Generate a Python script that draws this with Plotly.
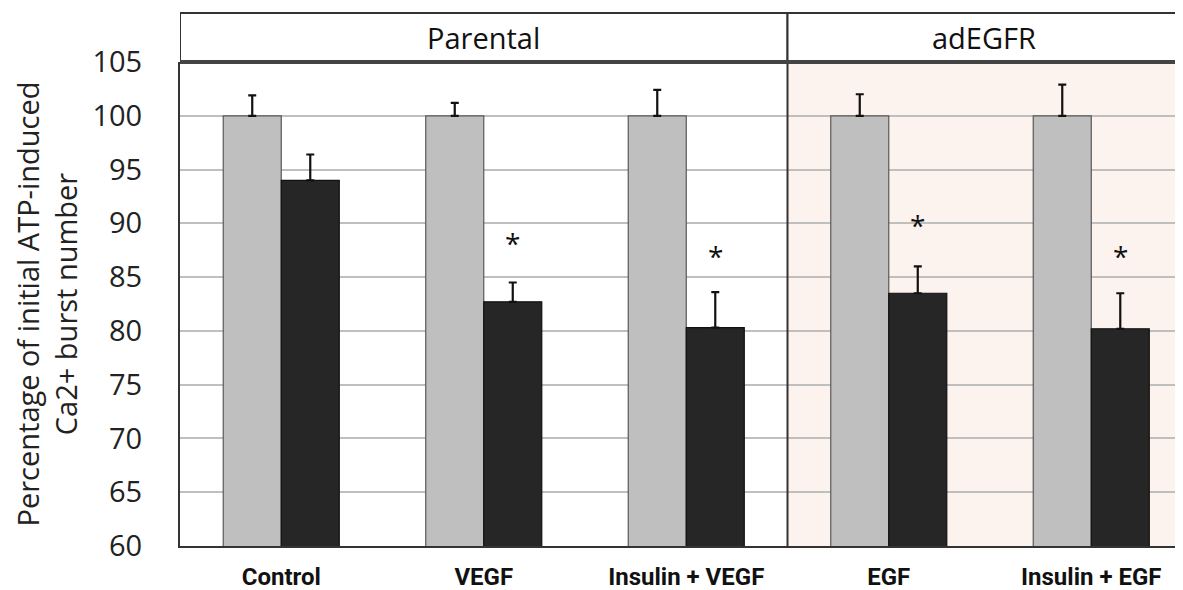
import plotly.graph_objects as go

categories = ["Control", "VEGF", "Insulin + VEGF", "EGF", "Insulin + EGF"]
initial_values = [100, 100, 100, 100, 100]
initial_err = [1.9, 1.2, 2.4, 2.0, 2.9]
treated_values = [94.0, 82.7, 80.3, 83.5, 80.2]
treated_err = [2.4, 1.8, 3.3, 2.5, 3.3]
star_cats = ["VEGF", "Insulin + VEGF", "EGF", "Insulin + EGF"]
star_y = [88.2, 87.0, 89.8, 87.0]
groups = ["Parental", "adEGFR"]
y_ticks = [60, 65, 70, 75, 80, 85, 90, 95, 100, 105]

fig = go.Figure()
fig.add_trace(go.Bar(
    x=categories, y=initial_values, name="Initial",
    marker=dict(color="#BFBFBF", line=dict(color="#595959", width=1.2)),
    error_y=dict(type="data", array=initial_err, arrayminus=[0]*5, symmetric=False,
                 color="#111111", thickness=2.2, width=4),
))
fig.add_trace(go.Bar(
    x=categories, y=treated_values, name="Treated",
    marker=dict(color="#262626", line=dict(color="#111111", width=1.2)),
    error_y=dict(type="data", array=treated_err, arrayminus=[0]*5, symmetric=False,
                 color="#111111", thickness=2.2, width=4),
))

for c, yv in zip(star_cats, star_y):
    fig.add_annotation(x=c, y=yv, text="*", showarrow=False, xshift=29,
                       font=dict(family="Open Sans", size=28, color="#111111"))

xmax = 4.453
# adEGFR background
fig.add_shape(type="rect", xref="x", yref="paper", x0=2.5, x1=xmax, y0=0, y1=1,
              fillcolor="#FCF3EE", line=dict(width=0), layer="below")
# header boxes
fig.add_shape(type="rect", xref="x", yref="paper", x0=-0.5, x1=2.5, y0=1, y1=1.101,
              fillcolor="white", line=dict(color="#333333", width=2))
fig.add_shape(type="rect", xref="x", yref="paper", x0=2.5, x1=xmax + 0.05, y0=1, y1=1.101,
              fillcolor="white", line=dict(color="#333333", width=2))
# split line
fig.add_shape(type="line", xref="x", yref="paper", x0=2.5, x1=2.5, y0=0, y1=1,
              line=dict(color="#333333", width=2))
# top thick line
fig.add_shape(type="line", xref="x", yref="paper", x0=-0.5, x1=xmax, y0=1, y1=1,
              line=dict(color="#444444", width=4))
fig.add_annotation(x=1.0, y=1.05, xref="x", yref="paper", text=groups[0], showarrow=False,
                   font=dict(family="Open Sans", size=29, color="#111111"), yanchor="middle")
fig.add_annotation(x=3.47, y=1.05, xref="x", yref="paper", text=groups[1], showarrow=False,
                   font=dict(family="Open Sans", size=29, color="#111111"), yanchor="middle")

fig.update_layout(
    width=1175, height=582,
    margin=dict(l=172, r=0, t=54, b=44),
    paper_bgcolor="white", plot_bgcolor="white",
    barmode="group", bargap=0.427, bargroupgap=0,
    showlegend=False,
    xaxis=dict(
        range=[-0.5, xmax], showgrid=False, showline=True, linecolor="#333333", linewidth=2,
        ticks="", tickfont=dict(family="Liberation Sans Narrow, Arial Narrow, Roboto", size=24,
                                color="#111111", weight="bold"),
        ticklabelstandoff=8,
    ),
    yaxis=dict(
        range=[60, 105], tickvals=y_ticks, showgrid=True, gridcolor="#BFBFBF", gridwidth=2,
        showline=True, linecolor="#333333", linewidth=2, ticks="", zeroline=False,
        tickfont=dict(family="Open Sans", size=29, color="#222222"),
        ticklabelstandoff=30,
        title=dict(text="Percentage of initial ATP-induced<br>Ca2+ burst number",
                   font=dict(family="Open Sans", size=29, color="#222222"), standoff=12),
    ),
)

fig.write_html("out.html")
